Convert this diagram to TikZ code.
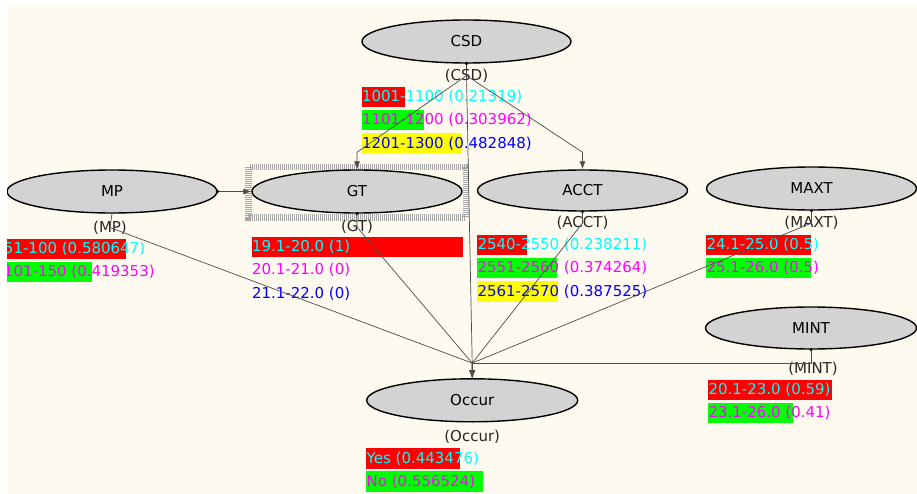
\documentclass[tikz,border=0pt]{standalone}
\usepackage{fontspec}
\setmainfont{DejaVu Sans}
\usepackage{tikz}
\usepackage{xcolor}
\usetikzlibrary{positioning,shapes,arrows.meta}

\definecolor{canvascream}{RGB}{255,250,240}
\definecolor{nodegray}{RGB}{211,211,211}
\definecolor{statered}{RGB}{255,0,0}
\definecolor{stategreen}{RGB}{0,255,0}
\definecolor{stateyellow}{RGB}{255,255,0}
\definecolor{statecyan}{RGB}{0,255,255}
\definecolor{statemagenta}{RGB}{255,0,255}
\definecolor{stateblue}{RGB}{0,0,255}

\begin{document}
\begin{tikzpicture}[
  x=1pt, y=-1pt,
  font=\fontsize{15}{18}\selectfont,
  varnode/.style={ellipse, draw=black, line width=1.4pt, fill=nodegray, minimum width=210pt, minimum height=42pt, inner sep=0pt},
  tagnode/.style={inner sep=0pt, text=black!85},
  statebar/.style={rectangle, fill=#1, minimum height=20.5pt, inner sep=0pt, anchor=north west},
  statetext/.style={inner sep=0pt, anchor=west, xshift=0.5pt},
  selbox/.style={draw=black!35, line width=6.5pt, dash pattern=on 1pt off 1pt},
  edgeline/.style={draw=black!70, line width=0.7pt},
  arrowline/.style={edgeline, -{Latex[length=8pt,width=6pt]}},
  dotnode/.style={fill,inner sep=0pt,minimum size=3.5pt,circle}
]
\fill[white] (0,0) rectangle (917,494);
\fill[canvascream] (7,6) rectangle (917,494);
\begin{scope}
\clip (7,6) rectangle (917,494);

%selection round GT
\draw[selbox] (248.5,166.8) rectangle (465.8,217.5);

%Nodes
\node[varnode, minimum width=209pt, minimum height=43pt] (csd) at (466.5,41.5) {CSD};
\node[varnode, minimum height=43pt] (mp) at (112,191.5) {MP};
\node[varnode, minimum height=43pt] (gt) at (357,191.5) {GT};
\node[varnode, minimum height=41pt] (acct) at (582.5,190.5) {ACCT};
\node[varnode, minimum height=43pt] (maxt) at (811.5,188.5) {MAXT};
\node[varnode, minimum width=211pt] (mint) at (811,328) {MINT};
\node[varnode, minimum width=211pt, minimum height=43pt] (occur) at (472.2,400.3) {Occur};

%Tags
\node[tagnode, below=5pt of csd] (csdtag) {(CSD)};
\node[tagnode, below=7pt of mp, xshift=-2pt] (mptag) {(MP)};
\node[tagnode, below=6.5pt of gt] (gttag) {(GT)};
\node[tagnode, below=4.5pt of acct] (accttag) {(ACCT)};
\node[tagnode, below=5.5pt of maxt] (maxttag) {(MAXT)};
\node[tagnode, below=12pt of mint, xshift=2pt] (minttag) {(MINT)};
\node[tagnode, below=7pt of occur] (occurtag) {(Occur)};

%States CSD
\node[statebar=statered, minimum width=43.5pt, yshift=-4pt] (csd1) at (csd.west |- csdtag.south) {};
\node[below=2.3pt of csd1.south west, statebar=stategreen, minimum width=62.5pt] (csd2) {};
\node[below=2.3pt of csd2.south west, statebar=stateyellow, minimum width=99.5pt] (csd3) {};
\node[statetext, text=statecyan] (csd1t) at (csd1.west) {1001-1100 (0.21319)};
\node[statetext, text=statemagenta] (csd2t) at (csd2.west) {1101-1200 (0.303962)};
\node[statetext, text=stateblue] (csd3t) at (csd3.west) {1201-1300 (0.482848)};

%States MP
\node[statebar=statered, minimum width=122pt, yshift=-4pt, xshift=-3pt] (mp1) at (mp.west |- mptag.south) {};
\node[below=2.3pt of mp1.south west, statebar=stategreen, minimum width=88pt] (mp2) {};
\node[statetext, text=statecyan] (mp1t) at (mp1.west) {51-100 (0.580647)};
\node[statetext, text=statemagenta] (mp2t) at (mp2.west) {101-150 (0.419353)};

%States GT
\node[statebar=statered, minimum width=211pt, yshift=-2.6pt] (gt1) at (gt.west |- gttag.south) {};
\node[below=2.3pt of gt1.south west, statebar=none, minimum width=0pt] (gt2) {};
\node[below=2.3pt of gt2.south west, statebar=none, minimum width=0pt] (gt3) {};
\node[statetext, text=statecyan] (gt1t) at (gt1.west) {19.1-20.0 (1)};
\node[statetext, text=statemagenta] (gt2t) at (gt2.west) {20.1-21.0 (0)};
\node[statetext, text=stateblue] (gt3t) at (gt3.west) {21.1-22.0 (0)};

%States ACCT
\node[statebar=statered, minimum width=50pt, yshift=-4.5pt] (acct1) at (acct.west |- accttag.south) {};
\node[below=2.3pt of acct1.south west, statebar=stategreen, minimum width=79.5pt] (acct2) {};
\node[below=2.3pt of acct2.south west, statebar=stateyellow, minimum width=80.5pt] (acct3) {};
\node[statetext, text=statecyan] (acct1t) at (acct1.west) {2540-2550 (0.238211)};
\node[statetext, text=statemagenta] (acct2t) at (acct2.west) {2551-2560 (0.374264)};
\node[statetext, text=stateblue] (acct3t) at (acct3.west) {2561-2570 (0.387525)};

%States MAXT
\node[statebar=statered, minimum width=105pt, yshift=-4.5pt] (maxt1) at (maxt.west |- maxttag.south) {};
\node[below=2.3pt of maxt1.south west, statebar=stategreen, minimum width=105pt] (maxt2) {};
\node[statetext, text=statecyan] (maxt1t) at (maxt1.west) {24.1-25.0 (0.5)};
\node[statetext, text=statemagenta] (maxt2t) at (maxt2.west) {25.1-26.0 (0.5)};

%States MINT
\node[statebar=statered, minimum width=124pt, yshift=-4pt, xshift=3pt] (mint1) at (mint.west |- minttag.south) {};
\node[below=2.3pt of mint1.south west, statebar=stategreen, minimum width=85pt] (mint2) {};
\node[statetext, text=statecyan] (mint1t) at (mint1.west) {20.1-23.0 (0.59)};
\node[statetext, text=statemagenta] (mint2t) at (mint2.west) {23.1-26.0 (0.41)};

%States Occur
\node[statebar=statered, minimum width=94pt, yshift=-4.7pt] (occur1) at (occur.west |- occurtag.south) {};
\node[below=2.3pt of occur1.south west, statebar=stategreen, minimum width=117pt] (occur2) {};
\node[statetext, text=statecyan] (occur1t) at (occur1.west) {Yes (0.443476)};
\node[statetext, text=statemagenta] (occur2t) at (occur2.west) {No (0.556524)};

%Arrows
\coordinate (gtin) at ([yshift=17pt]gt.north);
\coordinate (acctin) at ([yshift=17pt]acct.north);
\coordinate (occurin) at ([yshift=15pt]occur.north);

\draw[arrowline] (mp.east) -- (gt.west);
\draw[arrowline] (csd.south) -- (csdtag.center) -- (gtin) -- (gt.north);
\draw[arrowline] (csd.south) -- (csdtag.center) -- (acctin) -- (acct.north);
\draw[arrowline] (csd.south) -- (csdtag.center) -- (occurin) -- (occur.north);
\draw[arrowline] (mp.south) -- (mptag.center) -- (occurin) -- (occur.north);
\draw[arrowline] (gt.south) -- (gttag.center) -- (occurin) -- (occur.north);
\draw[arrowline] (acct.south) -- (accttag.center) -- (occurin) -- (occur.north);
\draw[arrowline] (maxt.south) -- (maxttag.center) -- (occurin) -- (occur.north);
\draw[arrowline] (mint.south) -- (mint.south |- occurin) -- (occurin) -- (occur.north);

\node[dotnode] (csddot) at (csd.south) {};
\node[dotnode] (mpdot) at (mp.east) {};
\node[dotnode] (gtdot) at (gt.south) {};
\node[dotnode] (acctdot) at (acct.south) {};
\node[dotnode] (maxtdot) at (maxt.south) {};
\node[dotnode] (mintdot) at (mint.south) {};
\end{scope}
\end{tikzpicture}
\end{document}
